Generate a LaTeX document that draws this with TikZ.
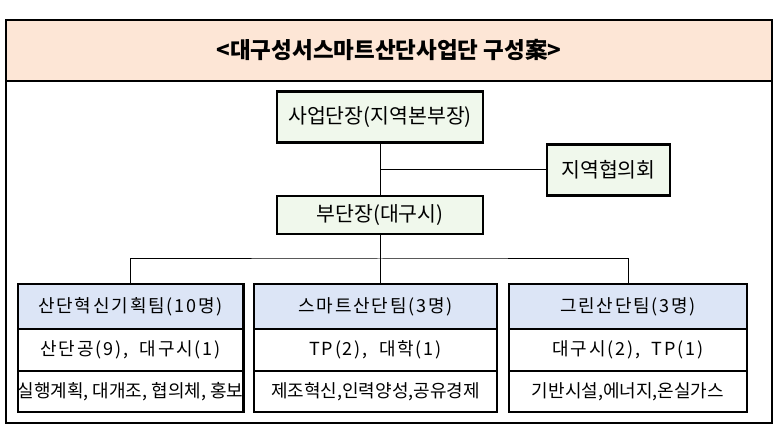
\documentclass[tikz,border=0pt]{standalone}
\usepackage{fontspec}
\setmainfont{Noto Sans CJK KR}
\usepackage{tikz}
\usetikzlibrary{positioning}
\definecolor{titlefill}{HTML}{FDE6D6}
\definecolor{headfill}{HTML}{F0F8EC}
\definecolor{teamfill}{HTML}{DCE5F6}

\begin{document}
\begin{tikzpicture}[
    x=1pt, y=-1pt,
    frame/.style = {draw, line width=1.2pt},
    head/.style = {draw, line width=2.4pt, fill=headfill, minimum height=51pt,
        inner sep=0pt, font=\fontsize{20.5}{22}\selectfont},
    team/.style = {draw, line width=1.2pt, inner sep=0pt, outer sep=0pt,
        font=\fontsize{18}{20}\selectfont},
    spaced/.style = {font=\fontsize{18}{20}\selectfont\addfontfeature{LetterSpace=10}},
    link/.style = {draw, line width=1pt}
  ]
  \useasboundingbox (0,0) rectangle (782,443);

  % frame and title
  \draw[frame, fill=titlefill] (6,20) rectangle (772,81);
  \draw[frame] (6,81) rectangle (772,423);
  \node[font=\fontsize{22.5}{24}\selectfont\bfseries] (title) at (389,50)
    {<대구성서스마트산단사업단 구성案>};

  % upper boxes
  \node[head, minimum width=206pt] (chief) at (380,117) {사업단장(지역본부장)};
  \node[head, minimum width=123pt] (council) at (608.5,170) {지역협의회};
  \node[head, minimum width=206pt, minimum height=38pt] (deputy) at (380,215) {부단장(대구시)};

  % teams
  \foreach \i/\x/\w/\name/\mem/\task in {
      1/130.5/225/산단혁신기획팀(10명)/{산단공(9),\ \ 대구시(1)}/{실행계획, 대개조, 협의체, 홍보},
      2/375.5/243/스마트산단팀(3명)/{TP(2),\ \ 대학(1)}/{제조혁신,인력양성,공유경제},
      3/628/238/그린산단팀(3명)/{대구시(2),\ \ TP(1)}/{기반시설,에너지,온실가스}} {
    \node[team, spaced, fill=teamfill, minimum width=\w pt, minimum height=45pt] (hdr\i) at (\x,306.5) {\name};
    \node[team, spaced, minimum width=\w pt, minimum height=42pt, below=0pt of hdr\i] (mem\i) {\mem};
    \node[team, minimum width=\w pt, minimum height=41pt, below=0pt of mem\i] (task\i) {\task};
    \draw[line width=2.4pt] (hdr\i.north west) rectangle (task\i.south east);
  }

  % connectors
  \coordinate (bar) at (380,259);
  \draw[link] (chief.south) -- (deputy.north);
  \draw[link] (chief.south |- council.west) -- (council.west);
  \draw[link] (deputy.south) -- (deputy.south |- hdr2.north);
  \draw[link] (hdr1.north) |- (bar) -| (hdr3.north);
\end{tikzpicture}
\end{document}
